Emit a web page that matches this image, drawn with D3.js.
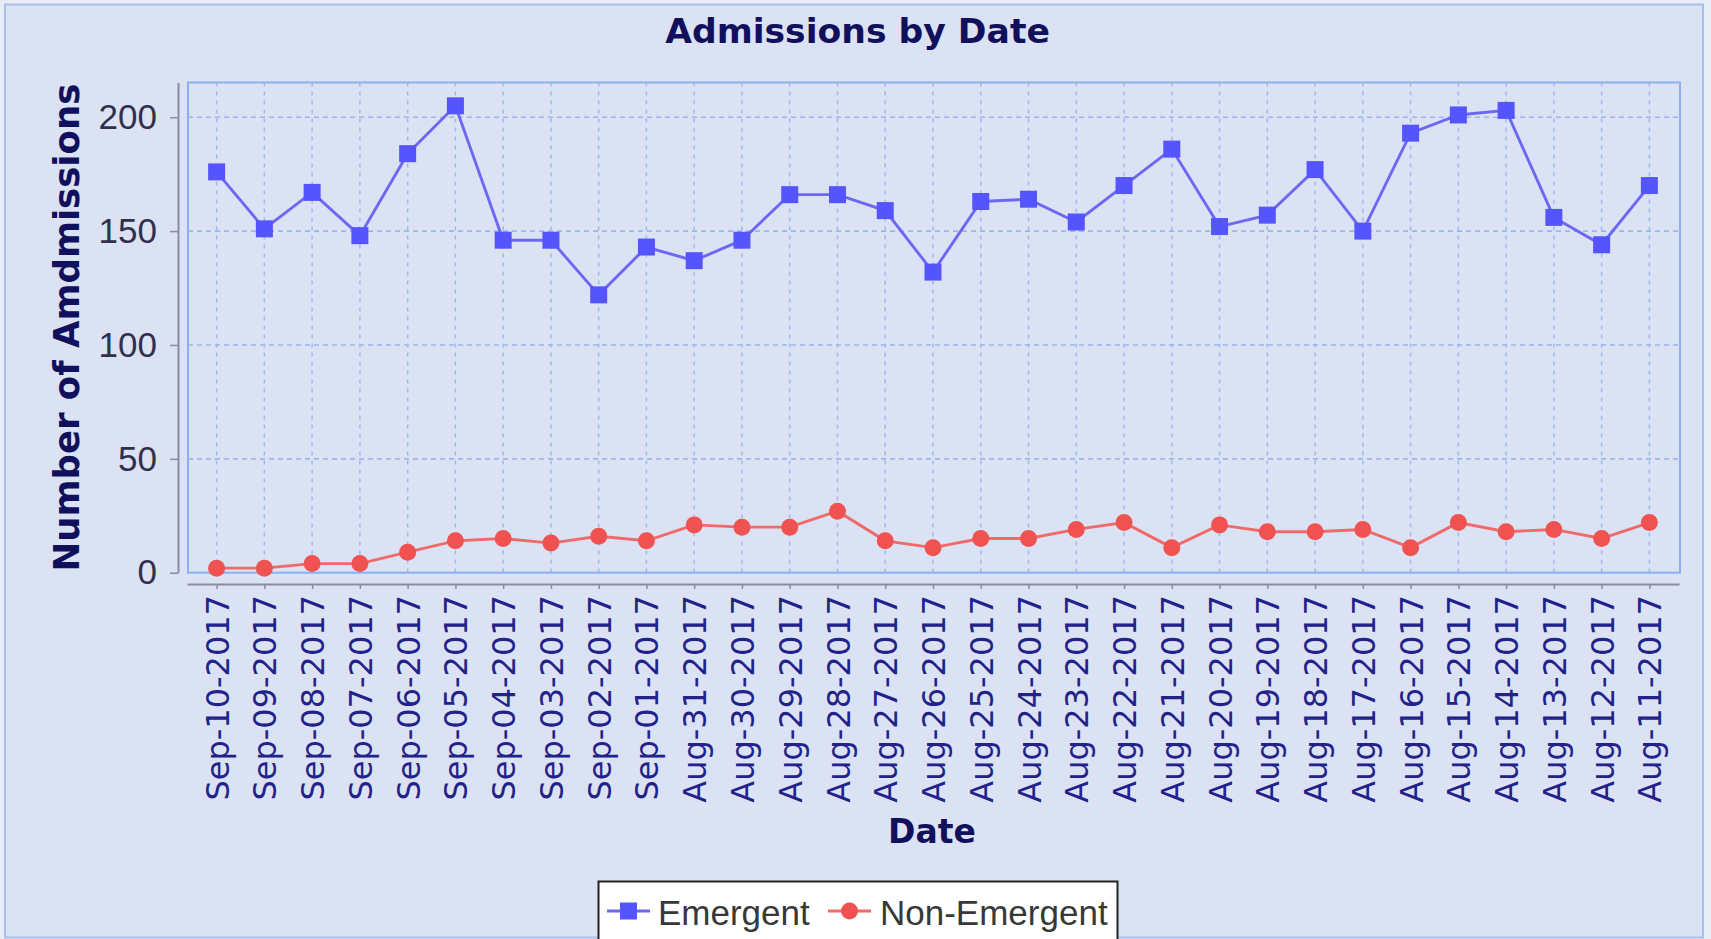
<!DOCTYPE html>
<html><head><meta charset="utf-8">
<script src="https://cdn.jsdelivr.net/npm/d3@7"></script>
<style>
html,body{margin:0;padding:0;background:#e7ecf7;}
svg{display:block;}
</style></head><body>
<svg id="chart" width="1711" height="939"></svg>
<script>
const categories = ["Sep-10-2017","Sep-09-2017","Sep-08-2017","Sep-07-2017","Sep-06-2017","Sep-05-2017","Sep-04-2017","Sep-03-2017","Sep-02-2017","Sep-01-2017",
  "Aug-31-2017","Aug-30-2017","Aug-29-2017","Aug-28-2017","Aug-27-2017","Aug-26-2017","Aug-25-2017","Aug-24-2017","Aug-23-2017","Aug-22-2017",
  "Aug-21-2017","Aug-20-2017","Aug-19-2017","Aug-18-2017","Aug-17-2017","Aug-16-2017","Aug-15-2017","Aug-14-2017","Aug-13-2017","Aug-12-2017","Aug-11-2017"];
const emergent = [176,151,167,148,184,205,146,146,122,143,
  137,146,166,166,159,132,163,164,154,170,
  186,152,157,177,150,193,201,203,156,144,170];
const nonEmergent = [2,2,4,4,9,14,15,13,16,14,
  21,20,20,27,14,11,15,15,19,22,
  11,21,18,18,19,11,22,18,19,15,22];
const yTicks = [0,50,100,150,200];
const seriesNames = ["Emergent","Non-Emergent"];
const seriesColors = ["#5555ff","#f05252"];
const lineColors = ["#6c68f4","#f06a6a"];

const W = 1711, H = 939;
const plot = {left:188, top:82.5, right:1680, bottom:572.7};
const svg = d3.select("#chart");

svg.append("rect").attr("x",0).attr("y",0).attr("width",W).attr("height",H).attr("fill","#e7ecf7");
svg.append("rect").attr("x",5).attr("y",4.5).attr("width",1698).attr("height",933)
  .attr("fill","#dbe2f3").attr("stroke","#a9c0ee").attr("stroke-width",2);

const x = d3.scalePoint().domain(categories).range([187,1679]).padding(0.62);
const y = d3.scaleLinear().domain([0, d3.max(emergent)*1.05]).range([plot.bottom, plot.top]);

// plot background
svg.append("rect").attr("x",plot.left).attr("y",plot.top)
  .attr("width",plot.right-plot.left).attr("height",plot.bottom-plot.top)
  .attr("fill","#dbe2f3");

// gridlines
const grid = svg.append("g");
grid.selectAll("line.h").data(yTicks.filter(d=>d>0)).enter().append("line")
  .attr("x1",plot.left).attr("x2",plot.right)
  .attr("y1",d=>y(d)).attr("y2",d=>y(d))
  .attr("stroke","#9cb6ec").attr("stroke-width",1.6).attr("stroke-dasharray","5,4");
grid.selectAll("line.v").data(categories).enter().append("line")
  .attr("x1",d=>x(d)).attr("x2",d=>x(d))
  .attr("y1",plot.top).attr("y2",plot.bottom)
  .attr("stroke","#9fb9ec").attr("stroke-width",1.5).attr("stroke-dasharray","4,5");

// plot border
svg.append("rect").attr("x",plot.left).attr("y",plot.top)
  .attr("width",plot.right-plot.left).attr("height",plot.bottom-plot.top)
  .attr("fill","none").attr("stroke","#8db0f0").attr("stroke-width",2);

// y axis
const yAxis = svg.append("g").attr("transform","translate(178,0)")
  .call(d3.axisLeft(y).tickValues(yTicks).tickSize(8).tickSizeOuter(0).tickPadding(13));
yAxis.select(".domain").attr("stroke","#8c8c9a").attr("stroke-width",2);
yAxis.selectAll(".tick line").attr("stroke","#8c8c9a").attr("stroke-width",1.5);
yAxis.selectAll(".tick text").attr("font-family","'Liberation Sans', Arial, sans-serif")
  .attr("font-size",35).attr("fill","#30304e");

// x axis
const xAxis = svg.append("g").attr("transform","translate(0,584)")
  .call(d3.axisBottom(x).tickSize(5).tickSizeOuter(0));
xAxis.select(".domain").attr("stroke","#8c8c9a").attr("stroke-width",2);
xAxis.selectAll(".tick line").attr("stroke","#8c8c9a").attr("stroke-width",1.5);
xAxis.selectAll(".tick text")
  .attr("font-family","'DejaVu Sans', sans-serif").attr("font-size",32).attr("fill","#22228a")
  .attr("transform","rotate(-90)").attr("text-anchor","end")
  .attr("x",-11).attr("y",0).attr("dy","0.36em");

// lines and markers
const series = [emergent, nonEmergent];
const line = d3.line().x((d,i)=>x(categories[i])).y(d=>y(d));
series.forEach((s,k)=>{
  svg.append("path").datum(s).attr("d",line).attr("fill","none")
    .attr("stroke",lineColors[k]).attr("stroke-width",2.9);
});
svg.append("g").selectAll("rect").data(emergent).enter().append("rect")
  .attr("x",(d,i)=>x(categories[i])-8.5).attr("y",d=>y(d)-8.5)
  .attr("width",17).attr("height",17).attr("fill",seriesColors[0]);
svg.append("g").selectAll("circle").data(nonEmergent).enter().append("circle")
  .attr("cx",(d,i)=>x(categories[i])).attr("cy",d=>y(d)).attr("r",8.5)
  .attr("fill",seriesColors[1]);

// title
svg.append("text").attr("x",W/2+2).attr("y",43).attr("text-anchor","middle")
  .attr("font-family","'DejaVu Sans', sans-serif").attr("font-weight","bold")
  .attr("font-size",34.6).attr("fill","#10105c").text("Admissions by Date");

// axis labels
svg.append("text").attr("transform",`translate(79,${(plot.top+plot.bottom)/2}) rotate(-90)`)
  .attr("text-anchor","middle")
  .attr("font-family","'DejaVu Sans', sans-serif").attr("font-weight","bold")
  .attr("font-size",35.5).attr("fill","#10105c").text("Number of Amdmissions");
svg.append("text").attr("x",(plot.left+plot.right)/2-2).attr("y",843).attr("text-anchor","middle")
  .attr("font-family","'DejaVu Sans', sans-serif").attr("font-weight","bold")
  .attr("font-size",33).attr("fill","#10105c").text("Date");

// legend
const lg = svg.append("g");
lg.append("rect").attr("x",598.5).attr("y",881.5).attr("width",519).attr("height",64)
  .attr("fill","#ffffff").attr("stroke","#222222").attr("stroke-width",2);
const legendX = [607, 828];
const textX = [658, 880];
seriesNames.forEach((name,k)=>{
  lg.append("line").attr("x1",legendX[k]).attr("x2",legendX[k]+43).attr("y1",911).attr("y2",911)
    .attr("stroke",lineColors[k]).attr("stroke-width",2.9);
  if(k===0){
    lg.append("rect").attr("x",legendX[k]+21.5-8.5).attr("y",911-8.5).attr("width",17).attr("height",17)
      .attr("fill",seriesColors[k]);
  } else {
    lg.append("circle").attr("cx",legendX[k]+21.5).attr("cy",911).attr("r",8.5).attr("fill",seriesColors[k]);
  }
  lg.append("text").attr("x",textX[k]).attr("y",925)
    .attr("font-family","'Liberation Sans', Arial, sans-serif").attr("font-size",35)
    .attr("fill","#383838").text(name);
});
</script>
</body></html>
